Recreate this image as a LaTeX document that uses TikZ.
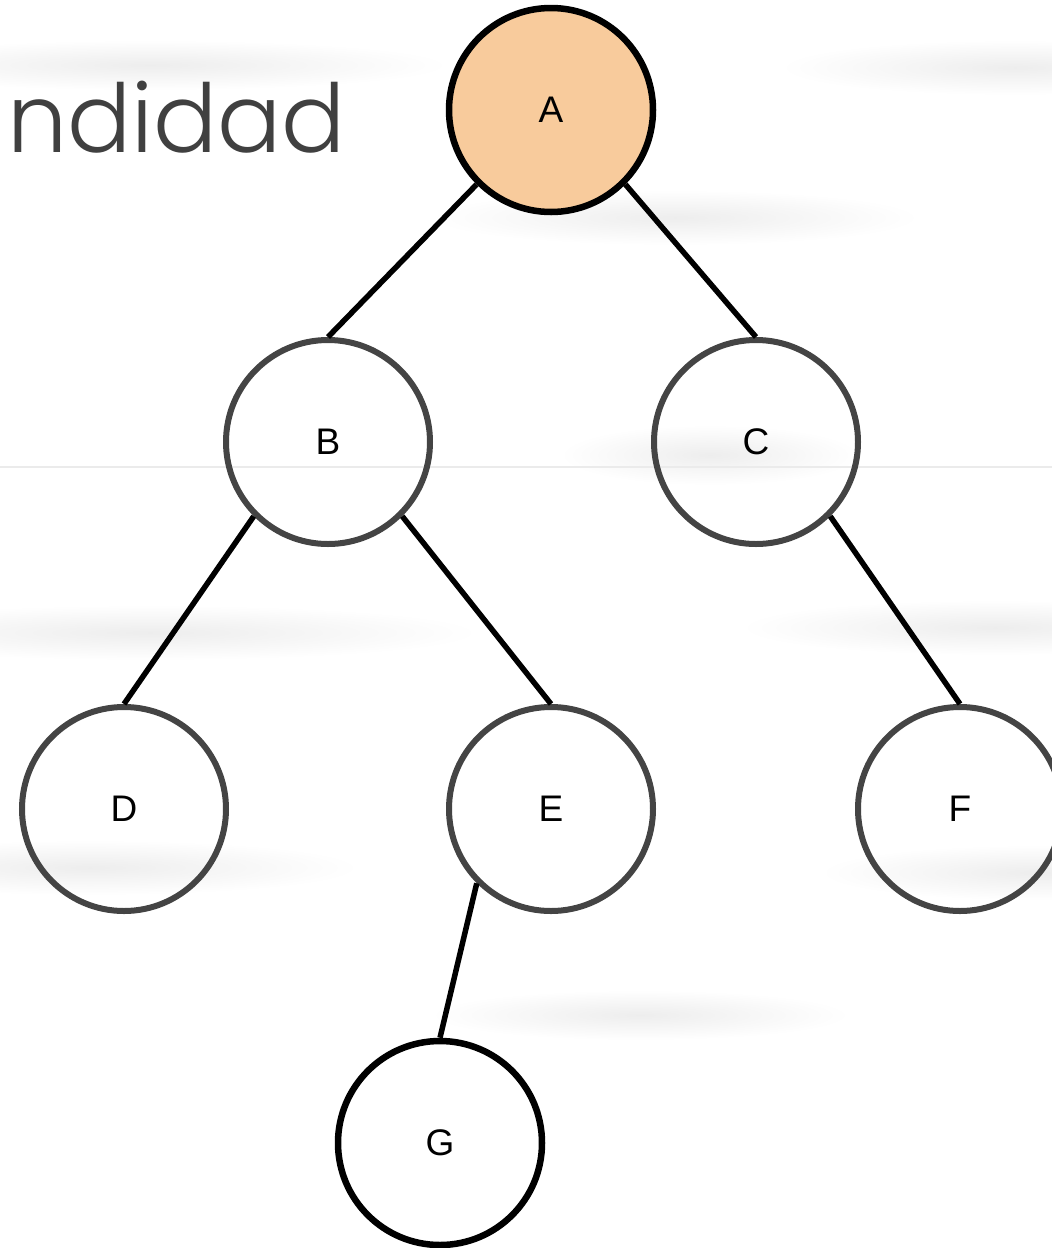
\documentclass[tikz,border=0pt]{standalone}
\usepackage{fontspec}
\setmainfont{Liberation Sans}
\newfontfamily\titlefont{Poppins Light}
\begin{document}
\begin{tikzpicture}[x=1pt,y=-1pt,
  treenode/.style={circle,minimum size=204pt,inner sep=0pt,
    line width=6pt,draw=nodegray,font=\fontsize{37}{40}\selectfont},
  rootnode/.style={treenode,draw=black,line width=6.5pt,fill=rootfill},
  leafnode/.style={treenode,draw=black,line width=6.5pt},
  edge/.style={draw=black,line width=5.5pt},
  haze/.style={inner color=black!7,outer color=white,draw=none}]
\definecolor{nodegray}{RGB}{68,68,68}
\definecolor{rootfill}{RGB}{248,203,156}
\definecolor{titlegray}{RGB}{64,64,64}

\useasboundingbox (0,0) rectangle (1052,1248);
\clip (0,0) rectangle (1052,1248);
\fill[white] (0,0) rectangle (1052,1248);

% soft background bands
\shade[haze] (-150,40) rectangle (450,90);
\shade[haze] (780,40) rectangle (1250,95);
\shade[haze] (430,190) rectangle (920,245);
\shade[haze] (560,425) rectangle (860,485);
\shade[haze] (-180,605) rectangle (480,660);
\shade[haze] (740,600) rectangle (1250,655);
\shade[haze] (-180,840) rectangle (360,895);
\shade[haze] (820,845) rectangle (1250,900);
\shade[haze] (430,990) rectangle (850,1040);
\draw[black!8,line width=1.5pt] (0,467) -- (1052,467);

% partial heading
\node[anchor=base west,inner sep=0pt,text=titlegray,
  font=\titlefont\fontsize{95}{110}\selectfont] (title) at (7,152) {ndidad};

% tree
\node[rootnode] (A) at (551,110) {A};
\node[treenode] (B) at (328,442) {B};
\node[treenode] (C) at (756,442) {C};
\node[treenode] (D) at (124,809) {D};
\node[treenode] (E) at (551,809) {E};
\node[treenode] (F) at (960,809) {F};
\node[leafnode] (G) at (440,1143) {G};

\draw[edge] (A.south west) -- (B.north);
\draw[edge] (A.south east) -- (C.north);
\draw[edge] (B.south west) -- (D.north);
\draw[edge] (B.south east) -- (E.north);
\draw[edge] (C.south east) -- (F.north);
\draw[edge] (E.south west) -- (G.north);
\end{tikzpicture}
\end{document}
